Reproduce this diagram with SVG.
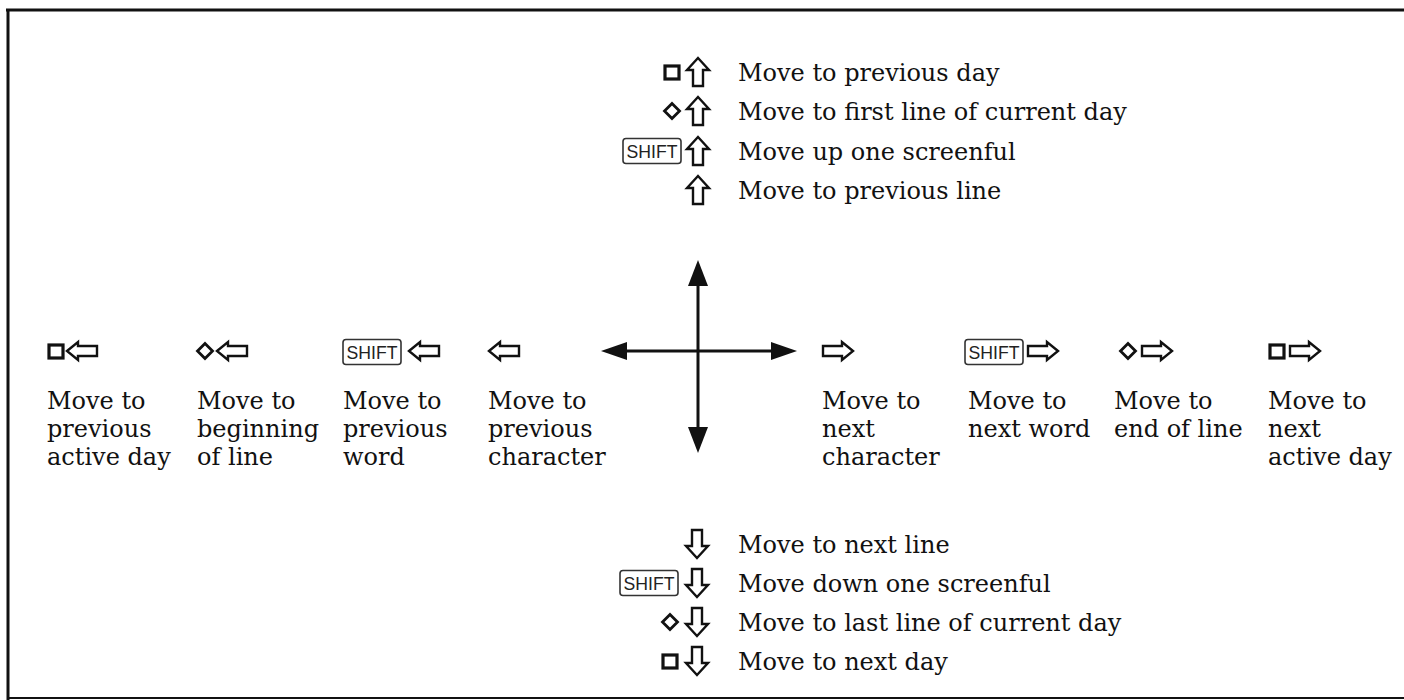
<svg xmlns="http://www.w3.org/2000/svg" width="1404" height="700" viewBox="0 0 1404 700">
<style>
.t{font-family:"DejaVu Serif","Liberation Serif",serif;font-size:24px;fill:#111}
.k{fill:#fff;stroke:#111;stroke-width:2.4;stroke-linejoin:miter}
.sq{fill:none;stroke:#111;stroke-width:3.2}
.sh{fill:#fff;stroke:#333;stroke-width:1.6}
.st{font-family:"Liberation Sans",Arial,sans-serif;font-size:19px;fill:#222}
.ln{stroke:#111;stroke-width:3;fill:none}
.hd{fill:#111}
</style>
<defs>
<path id="up" class="k" d="M0,-14 L11,-2 L5,-2 L5,14 L-5,14 L-5,-2 L-11,-2 Z"/>
<path id="dn" class="k" d="M0,14 L11,2 L5,2 L5,-14 L-5,-14 L-5,2 L-11,2 Z"/>
<path id="lf" class="k" d="M-15,0 L-4,-9 L-4,-5 L15,-5 L15,5 L-4,5 L-4,9 Z"/>
<path id="rt" class="k" d="M15,0 L4,-9 L4,-5 L-15,-5 L-15,5 L4,5 L4,9 Z"/>
<rect id="box" class="sq" x="-7" y="-6" width="14" height="13"/>
<path id="dia" class="sq" style="stroke-width:2.8" d="M0,-7.5 L7.5,0 L0,7.5 L-7.5,0 Z"/>
<g id="shift"><rect class="sh" x="-29" y="-12.5" width="58" height="25" rx="3"/><text class="st" x="0" y="7" text-anchor="middle" textLength="51" lengthAdjust="spacingAndGlyphs">SHIFT</text></g>
</defs>

<g id="frame" fill="none" stroke="#111">
<line x1="6" y1="10" x2="1404" y2="10" stroke-width="3"/>
<line x1="8" y1="9" x2="8" y2="700" stroke-width="3"/>
<line x1="8" y1="698" x2="1404" y2="698" stroke-width="2"/>
</g>

<g id="connectors">
<line class="ln" x1="698" y1="280" x2="698" y2="432"/>
<line class="ln" x1="622" y1="351" x2="776" y2="351"/>
<polygon class="hd" points="698,260 688,286 708,286"/>
<polygon class="hd" points="698,453 688,427 708,427"/>
<polygon class="hd" points="601,351 627,342 627,360"/>
<polygon class="hd" points="797,351 771,342 771,360"/>
</g>

<g id="up-prev-day"><use href="#box" x="672" y="72"/><use href="#up" x="698" y="72"/><text class="t" x="738" y="81">Move to previous day</text></g>
<g id="up-first-line"><use href="#dia" x="672" y="111"/><use href="#up" x="698" y="111"/><text class="t" x="738" y="120">Move to first line of current day</text></g>
<g id="up-screenful"><use href="#shift" x="652" y="151"/><use href="#up" x="698" y="151"/><text class="t" x="738" y="160">Move up one screenful</text></g>
<g id="up-prev-line"><use href="#up" x="698" y="190"/><text class="t" x="738" y="199">Move to previous line</text></g>

<g id="down-next-line"><use href="#dn" x="697" y="544"/><text class="t" x="738" y="553">Move to next line</text></g>
<g id="down-screenful"><use href="#shift" x="649" y="583"/><use href="#dn" x="697" y="583"/><text class="t" x="738" y="592">Move down one screenful</text></g>
<g id="down-last-line"><use href="#dia" x="670" y="622"/><use href="#dn" x="697" y="622"/><text class="t" x="738" y="631">Move to last line of current day</text></g>
<g id="down-next-day"><use href="#box" x="670" y="661"/><use href="#dn" x="697" y="661"/><text class="t" x="738" y="670">Move to next day</text></g>

<g id="left-active-day"><use href="#box" x="56" y="351"/><use href="#lf" x="82" y="351"/><text class="t" x="47" y="409">Move to<tspan x="47" y="437">previous</tspan><tspan x="47" y="465">active day</tspan></text></g>
<g id="left-line-begin"><use href="#dia" x="205" y="351"/><use href="#lf" x="232" y="351"/><text class="t" x="197" y="409">Move to<tspan x="197" y="437">beginning</tspan><tspan x="197" y="465">of line</tspan></text></g>
<g id="left-prev-word"><use href="#shift" x="372" y="352"/><use href="#lf" x="424" y="351"/><text class="t" x="343" y="409">Move to<tspan x="343" y="437">previous</tspan><tspan x="343" y="465">word</tspan></text></g>
<g id="left-prev-char"><use href="#lf" x="504" y="351"/><text class="t" x="488" y="409">Move to<tspan x="488" y="437">previous</tspan><tspan x="488" y="465">character</tspan></text></g>

<g id="right-next-char"><use href="#rt" x="838" y="351"/><text class="t" x="822" y="409">Move to<tspan x="822" y="437">next</tspan><tspan x="822" y="465">character</tspan></text></g>
<g id="right-next-word"><use href="#shift" x="994" y="352"/><use href="#rt" x="1043" y="351"/><text class="t" x="968" y="409">Move to<tspan x="968" y="437">next word</tspan></text></g>
<g id="right-line-end"><use href="#dia" x="1128" y="351"/><use href="#rt" x="1157" y="351"/><text class="t" x="1114" y="409">Move to<tspan x="1114" y="437">end of line</tspan></text></g>
<g id="right-active-day"><use href="#box" x="1277" y="351"/><use href="#rt" x="1305" y="351"/><text class="t" x="1268" y="409">Move to<tspan x="1268" y="437">next</tspan><tspan x="1268" y="465">active day</tspan></text></g>
</svg>
